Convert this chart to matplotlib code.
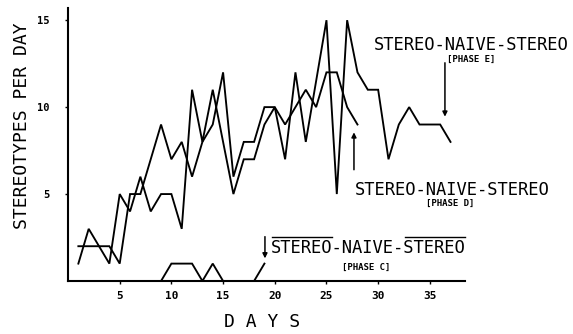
import matplotlib
matplotlib.use("Agg")
import matplotlib.pyplot as plt

# stereotypes per day
days_c = [1, 2, 3, 4, 5, 6, 7, 8, 9, 10, 11, 12, 13, 14, 15, 16, 17, 18, 19]
phase_c = [0, 0, 0, 0, 0, 0, 0, 0, 0, 1, 1, 1, 0, 1, 0, 0, 0, 0, 1]

days_d = [1, 2, 3, 4, 5, 6, 7, 8, 9, 10, 11, 12, 13, 14, 15, 16, 17, 18, 19, 20,
          21, 22, 23, 24, 25, 26, 27, 28]
phase_d = [2, 2, 2, 2, 1, 5, 5, 7, 9, 7, 8, 6, 8, 9, 12, 6, 8, 8, 10, 10,
           9, 10, 11, 10, 12, 12, 10, 9]

days_e = [1, 2, 3, 4, 5, 6, 7, 8, 9, 10, 11, 12, 13, 14, 15, 16, 17, 18, 19, 20,
          21, 22, 23, 24, 25, 26, 27, 28, 29, 30, 31, 32, 33, 34, 35, 36, 37]
phase_e = [1, 3, 2, 1, 5, 4, 6, 4, 5, 5, 3, 11, 8, 11, 8, 5, 7, 7, 9, 10,
           7, 12, 8, 11.5, 15, 5, 15, 12, 11, 11, 7, 9, 10, 9, 9, 9, 8]

x_ticks = [5, 10, 15, 20, 25, 30, 35]
y_ticks = [5, 10, 15]

MONO = "DejaVu Sans Mono"
LABEL = "STEREO-NAIVE-STEREO"

fig = plt.figure(figsize=(5.73, 3.34), dpi=100)
ax = fig.add_axes([0.1187, 0.1587, 0.6928, 0.8173])

for d, v in [(days_c, phase_c), (days_d, phase_d), (days_e, phase_e)]:
    ax.plot(d, v, color="black", lw=1.35, solid_joinstyle="miter", clip_on=False)

ax.set_xlim(0, 38.4)
ax.set_ylim(0, 15.7)
for side in ["top", "right"]:
    ax.spines[side].set_visible(False)
for side in ["left", "bottom"]:
    ax.spines[side].set_linewidth(1.5)

ax.set_xticks(x_ticks)
ax.set_yticks(y_ticks)
ax.set_xticklabels([str(t) for t in x_ticks], family=MONO, fontsize=8, fontweight="bold")
ax.set_yticklabels([str(t) for t in y_ticks], family=MONO, fontsize=7.5, fontweight="bold")
ax.tick_params(axis="x", direction="out", length=2.5, width=1, pad=5)
ax.tick_params(axis="y", direction="out", length=2.5, width=1, pad=11)

fig.text(22 / 573, 1 - 126 / 334, "STEREOTYPES PER DAY", rotation=90,
         ha="center", va="center", family=MONO, fontsize=13)
fig.text(262 / 573, 1 - 322 / 334, "D A Y S", ha="center", va="center",
         family=MONO, fontsize=13)

arrow = dict(arrowstyle="-|>", color="black", lw=1.1, mutation_scale=7,
             shrinkA=0, shrinkB=0)

# phase E
ax.text(39.0, 13.57, LABEL, ha="center", va="center", family=MONO, fontsize=12.3)
ax.text(39.0, 12.75, "[PHASE E]", ha="center", va="center", family=MONO,
        fontsize=6.5, fontweight="bold")
ax.annotate("", xy=(36.46, 9.45), xytext=(36.46, 12.55), arrowprops=arrow,
            annotation_clip=False)

# phase D
ax.text(37.2, 5.23, LABEL, ha="center", va="center", family=MONO, fontsize=12.3)
ax.text(37.0, 4.49, "[PHASE D]", ha="center", va="center", family=MONO,
        fontsize=6.5, fontweight="bold")
ax.annotate("", xy=(27.66, 8.55), xytext=(27.66, 6.4), arrowprops=arrow)

# phase C, with overbars on both STEREO words
txt_c = ax.text(29.06, 1.9, LABEL, ha="center", va="center", family=MONO, fontsize=12.3)
ax.text(28.8, 0.8, "[PHASE C]", ha="center", va="center", family=MONO,
        fontsize=6.5, fontweight="bold")
ax.annotate("", xy=(19.05, 1.3), xytext=(19.05, 2.55), arrowprops=arrow)

fig.canvas.draw()
bb = txt_c.get_window_extent().transformed(ax.transData.inverted())
cw = (bb.x1 - bb.x0) / len(LABEL)
bar_y = 2.55
for start, stop in [(0, 6), (13, 19)]:
    ax.plot([bb.x0 + start * cw + 0.1, bb.x0 + stop * cw - 0.1], [bar_y, bar_y],
            color="black", lw=1, clip_on=False)

fig.savefig("out.png", dpi=100)
